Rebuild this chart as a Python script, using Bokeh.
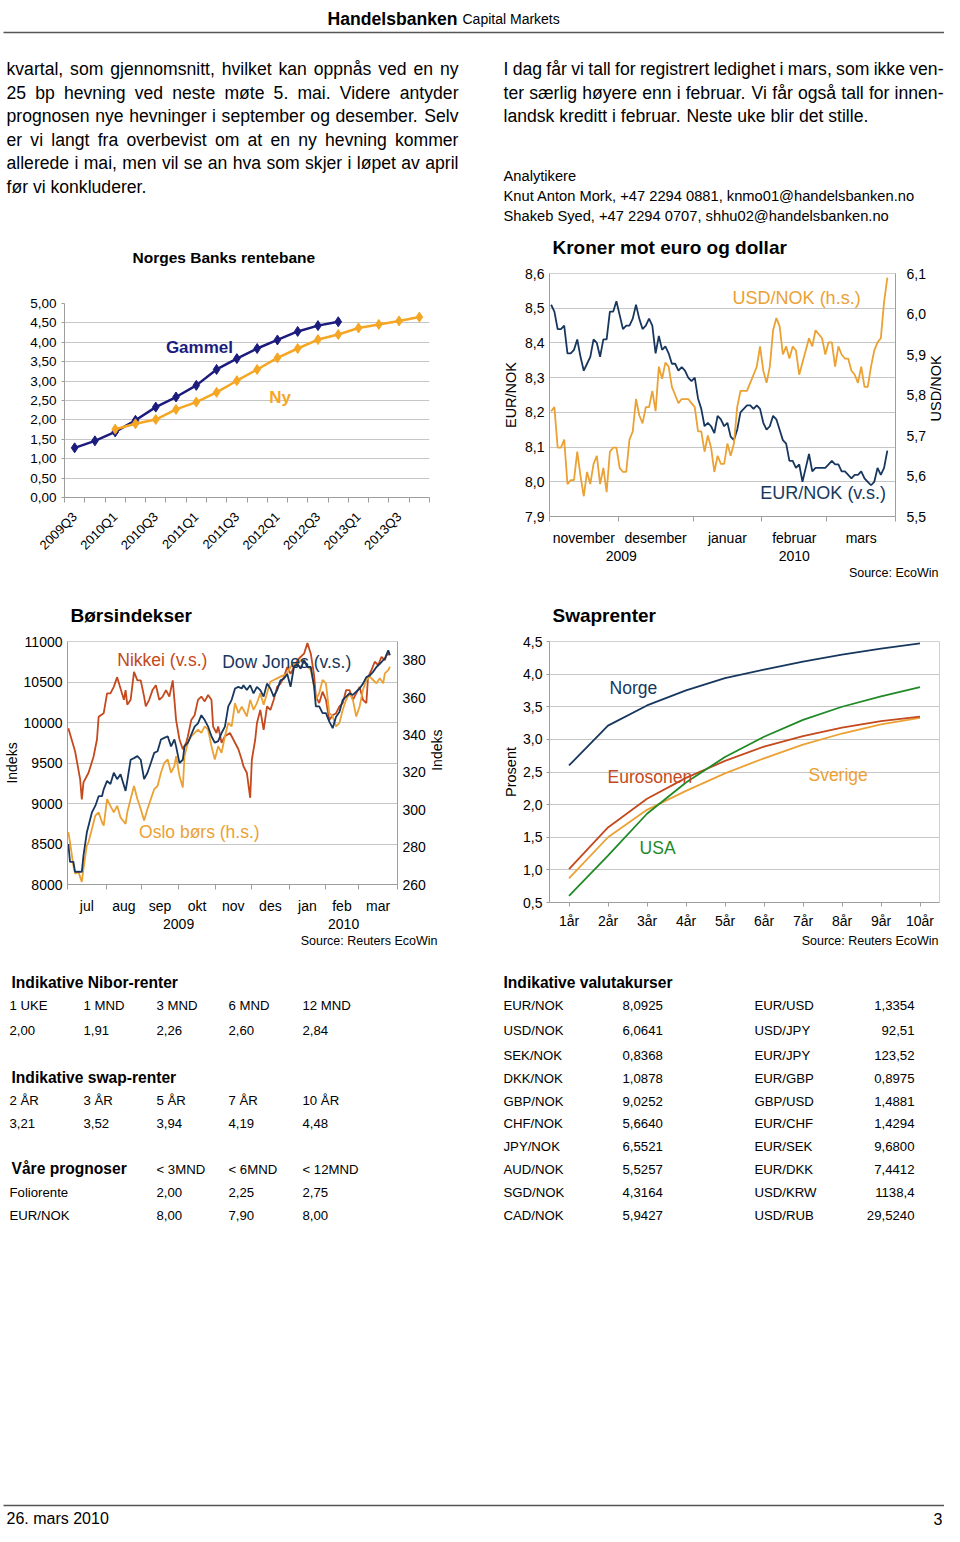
import math
from bokeh.plotting import figure
from bokeh.models import Range1d, LinearAxis, FixedTicker, CustomJSTickFormatter
from bokeh.layouts import column, row
from bokeh.embed import file_html
from bokeh.resources import INLINE
from bokeh.core.properties import value

# ---------------- data ----------------
quarters = ["2009Q3", "2009Q4", "2010Q1", "2010Q2", "2010Q3", "2010Q4",
            "2011Q1", "2011Q2", "2011Q3", "2011Q4", "2012Q1", "2012Q2",
            "2012Q3", "2012Q4", "2013Q1", "2013Q2", "2013Q3", "2013Q4"]
rente_gammel = [1.28, 1.46, 1.69, 1.99, 2.33, 2.59, 2.89, 3.30, 3.58, 3.84,
                4.06, 4.28, 4.43, 4.53]
rente_ny_start = "2010Q1"
rente_ny = [1.76, 1.90, 2.01, 2.27, 2.46, 2.71, 3.01, 3.30, 3.60, 3.84,
            4.07, 4.20, 4.37, 4.46, 4.55, 4.65]

fx_months = ["november", "desember", "januar", "februar", "mars"]
fx_month_days = [21, 23, 21, 20, 21]
fx_years = ["2009", "2010"]
fx_year_months = [2, 3]
eurnok = [8.51, 8.49, 8.44, 8.44, 8.45, 8.37, 8.37, 8.38, 8.41, 8.36,
          8.32, 8.34, 8.36, 8.41, 8.40, 8.36, 8.41, 8.41, 8.49, 8.49,
          8.52, 8.48, 8.44, 8.45, 8.45, 8.47, 8.51, 8.47, 8.44, 8.45,
          8.47, 8.45, 8.37, 8.42, 8.38, 8.39, 8.37, 8.34, 8.34, 8.32,
          8.33, 8.32, 8.30, 8.29, 8.30, 8.24, 8.21, 8.16, 8.17, 8.16,
          8.14, 8.19, 8.18, 8.16, 8.17, 8.13, 8.12, 8.15, 8.20, 8.21,
          8.22, 8.22, 8.21, 8.22, 8.21, 8.17, 8.15, 8.16, 8.19, 8.18,
          8.15, 8.12, 8.11, 8.06, 8.06, 8.04, 8.05, 8.00, 8.04, 8.08,
          8.03, 8.04, 8.04, 8.04, 8.04, 8.05, 8.06, 8.05, 8.05, 8.03,
          8.03, 8.02, 8.01, 8.02, 8.02, 8.03, 8.01, 8.00, 7.99, 8.00,
          8.04, 8.02, 8.04, 8.09]
usdnok = [5.76, 5.77, 5.67, 5.67, 5.69, 5.58, 5.59, 5.59, 5.66, 5.60,
          5.55, 5.61, 5.58, 5.63, 5.65, 5.58, 5.62, 5.56, 5.66, 5.67,
          5.67, 5.62, 5.61, 5.61, 5.69, 5.71, 5.79, 5.75, 5.73, 5.77,
          5.77, 5.81, 5.76, 5.87, 5.84, 5.88, 5.87, 5.82, 5.80, 5.78,
          5.79, 5.79, 5.79, 5.78, 5.77, 5.71, 5.71, 5.66, 5.70, 5.67,
          5.61, 5.65, 5.63, 5.63, 5.68, 5.65, 5.68, 5.77, 5.81, 5.81,
          5.81, 5.83, 5.85, 5.87, 5.92, 5.86, 5.83, 5.87, 5.96, 5.99,
          5.97, 5.90, 5.92, 5.89, 5.92, 5.91, 5.85, 5.88, 5.91, 5.94,
          5.92, 5.96, 5.95, 5.94, 5.90, 5.93, 5.93, 5.87, 5.92, 5.90,
          5.89, 5.89, 5.86, 5.85, 5.83, 5.87, 5.82, 5.82, 5.87, 5.91,
          5.93, 5.94, 6.03, 6.09]

eq_months = ["jul", "aug", "sep", "okt", "nov", "des", "jan", "feb", "mar"]
eq_month_days = [23, 21, 22, 22, 21, 23, 21, 20, 23]
eq_years = ["2009", "2010"]
eq_year_months = [6, 3]
nikkei_day = [0, 4, 7, 8, 9, 12, 15, 17, 18, 21,
              23, 25, 27, 29, 31, 33, 34, 35, 37, 39,
              41, 43, 45, 46, 48, 50, 52, 54, 56, 58,
              60, 62, 63, 64, 66, 68, 70, 71, 73, 75,
              77, 79, 81, 83, 85, 86, 88, 89, 91, 93,
              96, 99, 101, 103, 104, 106, 108, 109, 111, 112,
              114, 116, 118, 120, 122, 124, 126, 128, 130, 132,
              135, 137, 140, 142, 144, 146, 147, 149, 151, 153,
              155, 157, 159, 161, 163, 165, 167, 169, 171, 173,
              175, 177, 178, 180, 182, 184, 186, 188, 189, 191]
nikkei = [9930, 9645, 9300, 9050, 9260, 9380, 9580, 9790, 10070, 10115,
          10360, 10360, 10440, 10560, 10420, 10280, 10400, 10220, 10280, 10625,
          10520, 10520, 10320, 10200, 10280, 10400, 10460, 10280, 10320, 10400,
          10320, 10520, 10280, 10030, 9790, 9670, 9750, 9830, 10030, 10090,
          10280, 10320, 10260, 10340, 10280, 9950, 9870, 9950, 9750, 9830,
          9870, 9750, 9670, 9540, 9460, 9380, 9070, 9540, 9790, 9990,
          10155, 9910, 10200, 10155, 10280, 10440, 10480, 10560, 10685, 10600,
          10730, 10790, 10850, 10980, 10850, 10580, 10320, 10240, 10380, 10280,
          10030, 10090, 10115, 10200, 10240, 10400, 10400, 10280, 10360, 10440,
          10280, 10240, 10560, 10645, 10750, 10710, 10810, 10770, 10830, 10850]
dow_day = [0, 1, 3, 4, 6, 8, 9, 11, 12, 14,
           16, 18, 20, 21, 23, 25, 27, 29, 31, 34,
           35, 37, 39, 41, 43, 45, 47, 49, 51, 53,
           55, 57, 59, 61, 63, 64, 66, 68, 69, 71,
           73, 75, 77, 79, 81, 83, 85, 87, 89, 91,
           93, 95, 97, 99, 101, 103, 104, 106, 108, 110,
           112, 114, 116, 118, 120, 122, 124, 126, 128, 130,
           132, 134, 136, 138, 140, 142, 144, 146, 147, 149,
           151, 153, 155, 157, 159, 161, 163, 165, 167, 169,
           171, 173, 175, 177, 179, 181, 183, 185, 187, 188,
           190, 191]
dowjones = [8500, 8280, 8280, 8155, 8160, 8155, 8360, 8645, 8725, 8890,
            8970, 9090, 9090, 9175, 9280, 9240, 9380, 9300, 9360, 9155,
            9280, 9540, 9560, 9585, 9540, 9300, 9380, 9500, 9625, 9645,
            9790, 9810, 9830, 9705, 9790, 9705, 9500, 9540, 9705, 9750,
            9850, 9950, 9990, 10090, 10030, 9950, 9830, 9750, 9770, 9870,
            9950, 10200, 10280, 10420, 10440, 10420, 10460, 10400, 10460, 10360,
            10440, 10400, 10320, 10480, 10420, 10320, 10400, 10520, 10540, 10600,
            10440, 10685, 10725, 10665, 10770, 10685, 10685, 10440, 10200, 10200,
            10115, 10115, 10010, 9930, 10070, 10130, 10280, 10320, 10360, 10340,
            10380, 10420, 10480, 10560, 10580, 10625, 10685, 10725, 10770, 10790,
            10890, 10830]
oslo_day = list(dow_day)
oslo = [288.0, 282.7, 270.0, 265.8, 266.7, 261.4, 268.5, 280.9, 282.7, 289.7,
        296.8, 298.6, 293.3, 291.5, 305.7, 302.1, 298.6, 302.1, 295.9, 292.4,
        298.6, 305.7, 312.7, 305.7, 300.4, 294.2, 300.4, 305.7, 311.0, 312.7,
        319.8, 325.1, 326.9, 319.8, 323.4, 328.7, 318.0, 311.9, 328.7, 335.8,
        339.3, 341.1, 342.8, 341.1, 344.6, 342.8, 334.0, 326.9, 334.0, 330.4,
        339.3, 346.4, 344.6, 357.0, 351.7, 355.2, 353.5, 349.9, 358.8, 353.5,
        357.0, 362.3, 356.1, 362.3, 368.5, 369.4, 370.3, 371.2, 372.0, 372.9,
        376.5, 378.2, 377.3, 380.0, 380.0, 376.5, 374.7, 365.8, 358.8, 362.3,
        369.4, 367.6, 351.7, 349.9, 344.6, 346.4, 353.5, 358.8, 362.3, 358.8,
        349.9, 355.2, 364.1, 369.4, 371.2, 369.4, 367.6, 370.3, 367.6, 372.9,
        374.7, 376.5]

swap_tenors = ["1år", "2år", "3år", "4år", "5år", "6år", "7år", "8år", "9år", "10år"]
swap_norge = [2.60, 3.21, 3.52, 3.75, 3.94, 4.07, 4.19, 4.30, 4.39, 4.47]
swap_euro = [1.01, 1.65, 2.09, 2.41, 2.67, 2.89, 3.05, 3.18, 3.28, 3.35]
swap_usa = [0.60, 1.22, 1.86, 2.34, 2.73, 3.04, 3.30, 3.50, 3.66, 3.80]
swap_sverige = [0.87, 1.50, 1.92, 2.21, 2.48, 2.71, 2.92, 3.09, 3.23, 3.33]

nibor_labels = ["1 UKE", "1 MND", "3 MND", "6 MND", "12 MND"]
nibor_values = ["2,00", "1,91", "2,26", "2,60", "2,84"]
swapr_labels = ["2 ÅR", "3 ÅR", "5 ÅR", "7 ÅR", "10 ÅR"]
swapr_values = ["3,21", "3,52", "3,94", "4,19", "4,48"]
prog_headers = ["< 3MND", "< 6MND", "< 12MND"]
prog_names = ["Foliorente", "EUR/NOK"]
prog_foliorente = ["2,00", "2,25", "2,75"]
prog_eurnok = ["8,00", "7,90", "8,00"]
fx_names_1 = ["EUR/NOK", "USD/NOK", "SEK/NOK", "DKK/NOK", "GBP/NOK",
              "CHF/NOK", "JPY/NOK", "AUD/NOK", "SGD/NOK", "CAD/NOK"]
fx_values_1 = ["8,0925", "6,0641", "0,8368", "1,0878", "9,0252",
               "5,6640", "6,5521", "5,5257", "4,3164", "5,9427"]
fx_names_2 = ["EUR/USD", "USD/JPY", "EUR/JPY", "EUR/GBP", "GBP/USD",
              "EUR/CHF", "EUR/SEK", "EUR/DKK", "USD/KRW", "USD/RUB"]
fx_values_2 = ["1,3354", "92,51", "123,52", "0,8975", "1,4881",
               "1,4294", "9,6800", "7,4412", "1138,4", "29,5240"]

para_left = [
    "kvartal, som gjennomsnitt, hvilket kan oppnås ved en ny",
    "25 bp hevning ved neste møte 5. mai. Videre antyder",
    "prognosen nye hevninger i september og desember. Selv",
    "er vi langt fra overbevist om at en ny hevning kommer",
    "allerede i mai, men vil se an hva som skjer i løpet av april",
    "før vi konkluderer.",
]
para_right = [
    "I dag får vi tall for registrert ledighet i mars, som ikke ven-",
    "ter særlig høyere enn i februar. Vi får også tall for innen-",
    "landsk kreditt i februar. Neste uke blir det stille.",
]
analysts = ["Analytikere",
            "Knut Anton Mork, +47 2294 0881, knmo01@handelsbanken.no",
            "Shakeb Syed, +47 2294 0707, shhu02@handelsbanken.no"]

# ---------------- style ----------------
ARIAL = "Liberation Sans"
NAVY1 = "#1C1C7E"
ORANGE1 = "#F5A623"
NAVY = "#17375E"
ORANGE = "#EBA133"
RED = "#C4491C"
GREEN = "#1F8A26"
GRID = "#C6C6C6"
AXIS = "#9E9E9E"
TICK = "14px"

AW = {" ": 278, "!": 278, "(": 333, ")": 333, "+": 584, ",": 278, "-": 333, ".": 278,
      "/": 278, ":": 278, "<": 584, "@": 1015,
      "A": 667, "B": 667, "C": 722, "D": 722, "E": 667, "F": 611, "G": 778, "H": 722,
      "I": 278, "J": 500, "K": 667, "L": 556, "M": 833, "N": 722, "O": 778, "P": 667,
      "Q": 778, "R": 722, "S": 667, "T": 611, "U": 722, "V": 667, "W": 944, "X": 667,
      "Y": 667, "Z": 611,
      "a": 556, "b": 556, "c": 500, "d": 556, "e": 556, "f": 278, "g": 556, "h": 556,
      "i": 222, "j": 222, "k": 500, "l": 222, "m": 833, "n": 556, "o": 556, "p": 556,
      "q": 556, "r": 333, "s": 500, "t": 278, "u": 556, "v": 500, "w": 722, "x": 500,
      "y": 500, "z": 500, "å": 556, "æ": 889, "ø": 611, "Å": 667, "Æ": 1000, "Ø": 778}


def tw(s, fs):
    return sum(AW.get(c, 556) for c in s) * fs / 1000.0


def layout_line(line, x0, x1, fs, justify):
    words = line.split(" ")
    ws = [tw(w, fs) for w in words]
    if justify and len(words) > 1:
        gap = (x1 - x0 - sum(ws)) / (len(words) - 1)
    else:
        gap = tw(" ", fs)
    xs, x = [], x0
    for w in ws:
        xs.append(x)
        x += w + gap
    return words, xs


def tryset(obj, **kw):
    for k, v in kw.items():
        try:
            setattr(obj, k, v)
        except Exception:
            pass


def tfig(w, h, top, left=0):
    p = figure(width=w, height=h, x_range=Range1d(left, left + w), y_range=Range1d(top + h, top),
               x_axis_type=None, y_axis_type=None, min_border=0,
               output_backend="svg", toolbar_location=None)
    p.outline_line_color = None
    return p


def put(p, x, y, text, size, bold=False, align="left", color="#000000", angle=0.0):
    p.text(x=[x], y=[y], text=[text], text_font=value(ARIAL), text_font_size=size,
           text_font_style="bold" if bold else "normal", text_color=color,
           text_align=align, text_baseline="middle", angle=angle)


def cfig(w, h, xr, yr, l, r, t, b):
    p = figure(width=w, height=h, x_range=xr, y_range=yr, output_backend="svg",
               toolbar_location=None, min_border_left=l, min_border_right=r,
               min_border_top=t, min_border_bottom=b)
    tryset(p, frame_align=False)
    p.xgrid.visible = False
    p.ygrid.grid_line_color = GRID
    return p


def axis_style(ax, size=TICK, tick_out=3, standoff=4):
    ax.major_label_text_font = ARIAL
    ax.major_label_text_font_size = size
    ax.major_label_text_color = "#000000"
    ax.axis_line_color = AXIS
    ax.major_tick_line_color = AXIS
    ax.minor_tick_line_color = None
    ax.major_tick_in = 0
    ax.major_tick_out = tick_out
    ax.major_label_standoff = standoff


def axis_label(ax, text, size, standoff):
    ax.axis_label = text
    ax.axis_label_text_font = ARIAL
    ax.axis_label_text_font_size = size
    ax.axis_label_text_font_style = "normal"
    ax.axis_label_text_color = "#000000"
    ax.axis_label_standoff = standoff


def comma_fmt(dec):
    return CustomJSTickFormatter(code="return tick.toFixed(%d).replace('.', ',')" % dec)


def month_axes(p, days, names, years, year_months, standoff, year_standoff):
    bounds = [-0.5]
    for d in days:
        bounds.append(bounds[-1] + d)
    centers = [(bounds[i] + bounds[i + 1]) / 2 for i in range(len(days))]
    ycent, k = [], 0
    for n in year_months:
        ycent.append((bounds[k] + bounds[k + n]) / 2)
        k += n
    ax = p.xaxis[0]
    axis_style(ax, tick_out=0, standoff=standoff)
    ax.ticker = FixedTicker(ticks=centers, minor_ticks=bounds)
    ax.formatter = CustomJSTickFormatter(args=dict(names=names), code="return names[index]")
    ax.major_tick_line_color = None
    ax.minor_tick_line_color = AXIS
    ax.minor_tick_in = 0
    ax.minor_tick_out = 5
    yax = LinearAxis(ticker=FixedTicker(ticks=ycent),
                     formatter=CustomJSTickFormatter(args=dict(names=years), code="return names[index]"))
    axis_style(yax, tick_out=0, standoff=year_standoff)
    yax.axis_line_color = None
    yax.major_tick_line_color = None
    p.add_layout(yax, "below")


# ---------------- top text block (page y 0-266) ----------------
top = tfig(944, 266, 0)
top.text(x=[327], y=[18.3], text=["Handelsbanken"], text_font=value(ARIAL), text_font_style="bold",
         text_font_size="17.6px", text_baseline="alphabetic", text_color="#000000")
top.text(x=[462], y=[18.3], text=["Capital Markets"], text_font=value(ARIAL),
         text_font_size="14px", text_baseline="alphabetic", text_color="#000000")
top.line(x=[3, 944], y=[32, 32], line_color="#555555", line_width=1.5)

FS = 17.6
wx, wy, wt = [], [], []
for i, ln in enumerate(para_left):
    words, xs = layout_line(ln, 6, 458, FS, i < len(para_left) - 1)
    wt += words; wx += xs; wy += [68.5 + 23.5 * i] * len(words)
for i, ln in enumerate(para_right):
    words, xs = layout_line(ln, 503, 943, FS, i < len(para_right) - 1)
    wt += words; wx += xs; wy += [68.5 + 23.5 * i] * len(words)
top.text(x=wx, y=wy, text=wt, text_font=value(ARIAL), text_font_size="17.6px",
         text_baseline="middle", text_color="#000000")
top.text(x=[503] * 3, y=[175, 195, 215], text=analysts, text_font=value(ARIAL),
         text_font_size="14.7px", text_baseline="middle", text_color="#000000")
put(top, 132, 257, "Norges Banks rentebane", "15.5px", bold=True)
put(top, 552, 247, "Kroner mot euro og dollar", "19px", bold=True)

# ---------------- chart 1: Norges Banks rentebane (page y 266-563) ----------------
p1 = cfig(492, 297, Range1d(0, len(quarters)), Range1d(0, 5), 64, 63, 37, 66)
p1.outline_line_color = None
ya = p1.yaxis[0]
axis_style(ya, size="13.5px", tick_out=3, standoff=5)
ya.ticker = FixedTicker(ticks=[i * 0.5 for i in range(11)])
ya.formatter = comma_fmt(2)
xa = p1.xaxis[0]
axis_style(xa, size="13px", tick_out=0, standoff=12)
xa.ticker = FixedTicker(ticks=[i + 0.5 for i in range(0, len(quarters), 2)],
                        minor_ticks=list(range(len(quarters) + 1)))
xa.formatter = CustomJSTickFormatter(args=dict(q=quarters), code="return q[Math.round(tick - 0.5)]")
xa.major_tick_line_color = None
xa.minor_tick_line_color = AXIS
xa.minor_tick_in = 0
xa.minor_tick_out = 5
xa.major_label_orientation = math.pi / 4

xg = [i + 0.5 for i in range(len(rente_gammel))]
s0 = quarters.index(rente_ny_start)
xn = [s0 + i + 0.5 for i in range(len(rente_ny))]
p1.line(xg, rente_gammel, line_color=NAVY1, line_width=2.5)
p1.scatter(xg, rente_gammel, marker="diamond", size=10, fill_color=NAVY1, line_color=NAVY1)
p1.line(xn, rente_ny, line_color=ORANGE1, line_width=2.5)
p1.scatter(xn, rente_ny, marker="diamond", size=10, fill_color=ORANGE1, line_color=ORANGE1)
p1.text(x=[5.0], y=[3.87], text=["Gammel"], text_font=value(ARIAL), text_font_style="bold",
        text_font_size="17px", text_color=NAVY1, text_baseline="middle")
p1.text(x=[10.1], y=[2.58], text=["Ny"], text_font=value(ARIAL), text_font_style="bold",
        text_font_size="17px", text_color=ORANGE1, text_baseline="middle")

# ---------------- chart 2: Kroner mot euro og dollar (x 492-928) ----------------
p2 = cfig(436, 297, Range1d(-0.5, -0.5 + sum(fx_month_days)), Range1d(7.9, 8.6), 57, 31, 7, 44)
p2.extra_y_ranges = {"usd": Range1d(5.5, 6.1)}
p2.outline_line_color = "#D0D0D0"
ya = p2.yaxis[0]
axis_style(ya, tick_out=0, standoff=5)
ya.ticker = FixedTicker(ticks=[round(7.9 + 0.1 * i, 1) for i in range(8)])
ya.formatter = comma_fmt(1)
axis_label(ya, "EUR/NOK", "14.5px", 3)
ra = LinearAxis(y_range_name="usd", ticker=FixedTicker(ticks=[round(5.5 + 0.1 * i, 1) for i in range(7)]),
                formatter=comma_fmt(1))
axis_style(ra, tick_out=0, standoff=11)
p2.add_layout(ra, "right")
month_axes(p2, fx_month_days, fx_months, fx_years, fx_year_months, 8, 2)
xi = list(range(len(eurnok)))
p2.line(xi, eurnok, line_color=NAVY, line_width=1.8)
p2.line(list(range(len(usdnok))), usdnok, line_color=ORANGE, line_width=1.8, y_range_name="usd")
p2.text(x=[55.6], y=[8.528], text=["USD/NOK (h.s.)"], text_font=value(ARIAL),
        text_font_size="18px", text_color=ORANGE, text_baseline="middle")
p2.text(x=[64.1], y=[7.968], text=["EUR/NOK (v.s.)"], text_font=value(ARIAL),
        text_font_size="18px", text_color=NAVY, text_baseline="middle")

# right-hand axis title of chart 2 (x 928-944)
lab2 = tfig(16, 297, 266, left=928)
put(lab2, 935, 396, "USD/NOK", "14.5px", align="center", angle=math.pi / 2)

# ---------------- strip between the chart rows (page y 563-628) ----------------
mid = tfig(944, 65, 563)
put(mid, 938, 572, "Source: EcoWin", "12.5px", align="right")
put(mid, 70, 615, "Børsindekser", "19px", bold=True)
put(mid, 552, 615, "Swaprenter", "19px", bold=True)

# ---------------- chart 3: Børsindekser (x 0-428, page y 628-931) ----------------
p3 = cfig(428, 303, Range1d(-0.5, -0.5 + sum(eq_month_days)), Range1d(8000, 11000), 67, 29, 13, 45)
p3.extra_y_ranges = {"oslo": Range1d(260, 390)}
p3.outline_line_color = "#D0D0D0"
ya = p3.yaxis[0]
axis_style(ya, tick_out=0, standoff=5)
ya.ticker = FixedTicker(ticks=[8000 + 500 * i for i in range(7)])
axis_label(ya, "Indeks", "14px", 1)
ra = LinearAxis(y_range_name="oslo", ticker=FixedTicker(ticks=[260 + 20 * i for i in range(7)]))
axis_style(ra, tick_out=0, standoff=5)
p3.add_layout(ra, "right")
month_axes(p3, eq_month_days, eq_months, eq_years, eq_year_months, 8, 2)
p3.line(nikkei_day, nikkei, line_color=RED, line_width=1.8)
p3.line(oslo_day, oslo, line_color=ORANGE, line_width=1.8, y_range_name="oslo")
p3.line(dow_day, dowjones, line_color=NAVY, line_width=1.8)
p3.text(x=[29.1], y=[10767], text=["Nikkei (v.s.)"], text_font=value(ARIAL),
        text_font_size="17.5px", text_color=RED, text_baseline="middle")
p3.text(x=[91.4], y=[10743], text=["Dow Jones (v.s.)"], text_font=value(ARIAL),
        text_font_size="17.5px", text_color=NAVY, text_baseline="middle")
p3.text(x=[42.0], y=[8649], text=["Oslo børs (h.s.)"], text_font=value(ARIAL),
        text_font_size="17.5px", text_color=ORANGE, text_baseline="middle")

# right-hand axis title of chart 3 (x 428-492)
lab3 = tfig(64, 303, 628, left=428)
put(lab3, 436, 763.5, "Indeks", "14px", align="center", angle=math.pi / 2)

# ---------------- chart 4: Swaprenter (x 492-944) ----------------
p4 = cfig(452, 303, Range1d(0, len(swap_tenors)), Range1d(0.5, 4.5), 57, 5, 13, 29)
p4.outline_line_color = "#D0D0D0"
ya = p4.yaxis[0]
axis_style(ya, tick_out=3, standoff=4)
ya.ticker = FixedTicker(ticks=[0.5 + 0.5 * i for i in range(9)])
ya.formatter = comma_fmt(1)
axis_label(ya, "Prosent", "14.5px", 1)
xa = p4.xaxis[0]
axis_style(xa, tick_out=4, standoff=6)
xa.ticker = FixedTicker(ticks=[i + 0.5 for i in range(len(swap_tenors))])
xa.formatter = CustomJSTickFormatter(args=dict(names=swap_tenors), code="return names[index]")
xs4 = [i + 0.5 for i in range(len(swap_tenors))]
p4.line(xs4, swap_sverige, line_color=ORANGE, line_width=1.8)
p4.line(xs4, swap_euro, line_color=RED, line_width=1.8)
p4.line(xs4, swap_usa, line_color=GREEN, line_width=1.8)
p4.line(xs4, swap_norge, line_color=NAVY, line_width=1.8)
p4.text(x=[1.54], y=[3.78], text=["Norge"], text_font=value(ARIAL), text_font_size="17.5px",
        text_color=NAVY, text_baseline="middle")
p4.text(x=[1.49], y=[2.42], text=["Eurosonen"], text_font=value(ARIAL), text_font_size="17.5px",
        text_color=RED, text_baseline="middle")
p4.text(x=[2.31], y=[1.33], text=["USA"], text_font=value(ARIAL), text_font_size="17.5px",
        text_color=GREEN, text_baseline="middle")
p4.text(x=[6.64], y=[2.45], text=["Sverige"], text_font=value(ARIAL), text_font_size="17.5px",
        text_color=ORANGE, text_baseline="middle")

# ---------------- bottom block: sources + tables (page y 931-1526) ----------------
bt = tfig(944, 595, 931)
put(bt, 437, 940, "Source: Reuters EcoWin", "12.5px", align="right")
put(bt, 938, 940, "Source: Reuters EcoWin", "12.5px", align="right")
HB = dict(text_font=value(ARIAL), text_font_style="bold", text_font_size="15.6px",
          text_baseline="middle", text_color="#000000")
TR = dict(text_font=value(ARIAL), text_font_size="13.2px", text_baseline="middle",
          text_color="#000000")
cols = [9, 83, 156, 228, 302]
bt.text(x=[11, 11, 11, 503], y=[982, 1077, 1168, 982],
        text=["Indikative Nibor-renter", "Indikative swap-renter", "Våre prognoser",
              "Indikative valutakurser"], **HB)
bt.text(x=cols, y=[1005] * 5, text=nibor_labels, **TR)
bt.text(x=cols, y=[1030] * 5, text=nibor_values, **TR)
bt.text(x=cols, y=[1100] * 5, text=swapr_labels, **TR)
bt.text(x=cols, y=[1123] * 5, text=swapr_values, **TR)
bt.text(x=cols[2:], y=[1169] * 3, text=prog_headers, **TR)
bt.text(x=[9, 9], y=[1192, 1215], text=prog_names, **TR)
bt.text(x=cols[2:], y=[1192] * 3, text=prog_foliorente, **TR)
bt.text(x=cols[2:], y=[1215] * 3, text=prog_eurnok, **TR)
fx_rows = [1005, 1030, 1055, 1078, 1101, 1123, 1146, 1169, 1192, 1215]
bt.text(x=[503] * 10, y=fx_rows, text=fx_names_1, **TR)
bt.text(x=[622] * 10, y=fx_rows, text=fx_values_1, **TR)
bt.text(x=[754] * 10, y=fx_rows, text=fx_names_2, **TR)
bt.text(x=[914] * 10, y=fx_rows, text=fx_values_2, text_align="right", **TR)
bt.line(x=[3, 944], y=[1505, 1505], line_color="#555555", line_width=1.5)
bt.text(x=[6], y=[1518], text=["26. mars 2010"], text_font=value(ARIAL), text_font_size="16px",
        text_baseline="middle", text_color="#000000")
bt.text(x=[942], y=[1518], text=["3"], text_font=value(ARIAL), text_font_size="16px",
        text_baseline="middle", text_align="right", text_color="#000000")

page = column(top, row(p1, p2, lab2), mid, row(p3, lab3, p4), bt)
open("out.html", "w").write(file_html(page, INLINE))
